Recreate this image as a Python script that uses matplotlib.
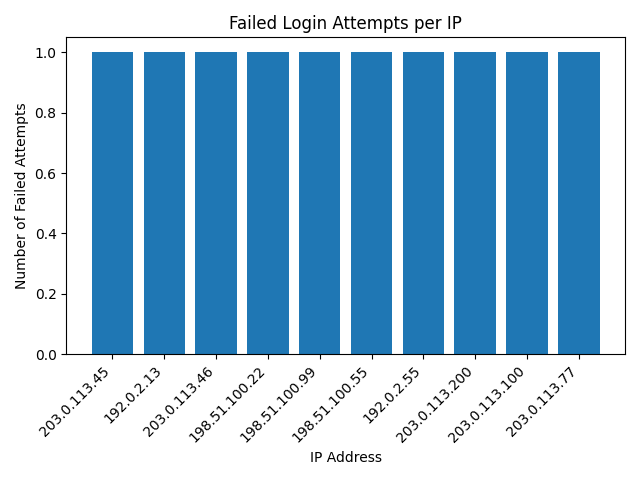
import matplotlib
matplotlib.use("Agg")
import matplotlib.pyplot as plt

ips = ["203.0.113.45", "192.0.2.13", "203.0.113.46", "198.51.100.22",
       "198.51.100.99", "198.51.100.55", "192.0.2.55", "203.0.113.200",
       "203.0.113.100", "203.0.113.77"]
attempts = [1, 1, 1, 1, 1, 1, 1, 1, 1, 1]

fig, ax = plt.subplots(figsize=(6.4, 4.8), dpi=100)
ax.bar(ips, attempts)
ax.set_title("Failed Login Attempts per IP")
ax.set_xlabel("IP Address")
ax.set_ylabel("Number of Failed Attempts")
plt.xticks(rotation=45, ha="right")
plt.tight_layout()
plt.savefig("out.png")
